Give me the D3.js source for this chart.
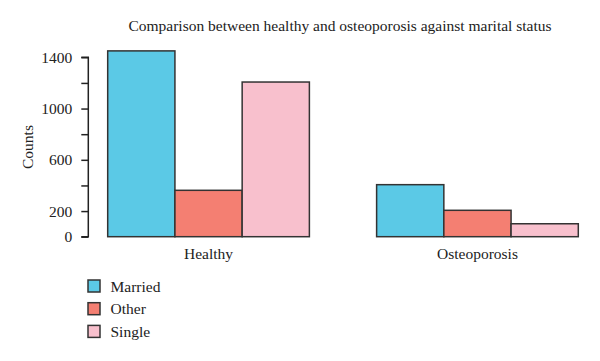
<!DOCTYPE html>
<html>
<head>
<meta charset="utf-8">
<script src="https://cdn.jsdelivr.net/npm/d3@7"></script>
<style>
  body { margin: 0; background: #fff; }
  svg text { font-family: "Liberation Serif", "DejaVu Serif", serif; fill: #222; }
</style>
</head>
<body>
<div id="chart"></div>
<script>
var groups = ["Healthy", "Osteoporosis"];
var series = ["Married", "Other", "Single"];
var healthy = [1450, 362, 1207];
var osteoporosis = [406, 206, 101];
var yTicks = [0, 200, 400, 600, 800, 1000, 1200, 1400];
var yLabels = [0, 200, 600, 1000, 1400];
var colors = ["#5bc9e6", "#f47f72", "#f8c0cd"];

var width = 600, height = 361;

var svg = d3.select("#chart").append("svg")
  .attr("width", width)
  .attr("height", height);

var data = groups.map(function(g, i) {
  var vals = i == 0 ? healthy : osteoporosis;
  return {group: g, bars: series.map(function(s, j) { return {name: s, value: vals[j]}; })};
});

var x0 = d3.scaleBand()
  .domain(groups)
  .range([107.7, 578.3])
  .paddingInner(0.25)
  .paddingOuter(0);

var x1 = d3.scaleBand()
  .domain(series)
  .range([0, x0.bandwidth()]);

var y = d3.scaleLinear()
  .domain([0, 1400])
  .range([236.7, 57.3]);

var color = d3.scaleOrdinal().domain(series).range(colors);

// y axis
var yAxis = d3.axisLeft(y)
  .tickValues(yTicks)
  .tickSize(7)
  .tickPadding(9)
  .tickFormat(function(d) { return yLabels.indexOf(d) >= 0 ? d : ""; });

var ga = svg.append("g")
  .attr("transform", "translate(88.3,0)")
  .call(yAxis);
ga.select(".domain").attr("stroke", "#222").attr("stroke-width", 1.5)
  .attr("d", "M-7," + y(0) + "H0V" + y(1400) + "H-7");
ga.selectAll(".tick line").attr("stroke", "#222").attr("stroke-width", 1.5);
ga.selectAll(".tick text")
  .style("font-family", "'Liberation Serif', serif")
  .style("font-size", "15.5px")
  .attr("fill", "#222");

svg.append("text")
  .attr("transform", "translate(33,147) rotate(-90)")
  .attr("text-anchor", "middle")
  .style("font-size", "15.5px")
  .text("Counts");

// bars
var gg = svg.selectAll(".grp")
  .data(data)
  .join("g")
  .attr("class", "grp")
  .attr("transform", function(d) { return "translate(" + x0(d.group) + ",0)"; });

gg.selectAll("rect")
  .data(function(d) { return d.bars; })
  .join("rect")
  .attr("x", function(d) { return x1(d.name); })
  .attr("width", x1.bandwidth())
  .attr("y", function(d) { return y(d.value); })
  .attr("height", function(d) { return y(0) - y(d.value); })
  .attr("fill", function(d) { return color(d.name); })
  .attr("stroke", "#333")
  .attr("stroke-width", 1.5);

gg.append("text")
  .attr("x", x0.bandwidth() / 2)
  .attr("y", 259)
  .attr("text-anchor", "middle")
  .style("font-size", "15.5px")
  .text(function(d) { return d.group; });

// title
svg.append("text")
  .attr("x", 340)
  .attr("y", 31)
  .attr("text-anchor", "middle")
  .style("font-size", "15.5px")
  .text("Comparison between healthy and osteoporosis against marital status");

// legend
var legend = svg.selectAll(".legend")
  .data(series)
  .join("g")
  .attr("class", "legend")
  .attr("transform", function(d, i) { return "translate(88," + (286 + i * 22.7) + ")"; });

legend.append("rect")
  .attr("x", 0)
  .attr("y", -6)
  .attr("width", 12)
  .attr("height", 12)
  .attr("fill", color)
  .attr("stroke", "#333")
  .attr("stroke-width", 1.5);

legend.append("text")
  .attr("x", 22.5)
  .attr("y", 5.5)
  .style("font-size", "15.5px")
  .text(function(d) { return d; });
</script>
</body>
</html>
